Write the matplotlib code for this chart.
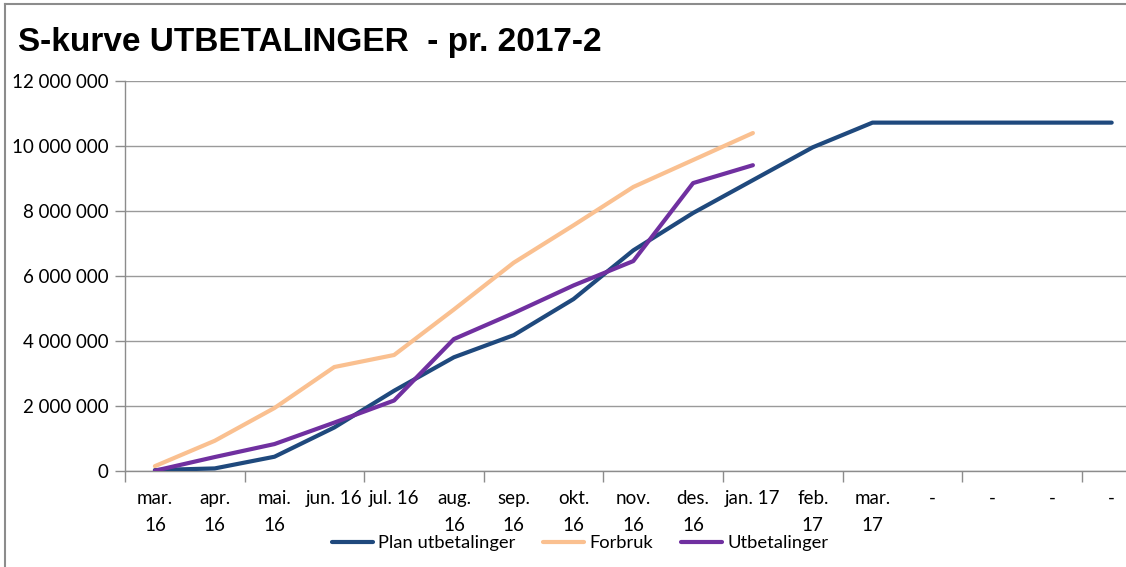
import matplotlib
matplotlib.use("Agg")
import matplotlib.pyplot as plt
from matplotlib.lines import Line2D
from matplotlib.ticker import FuncFormatter, FixedLocator
import numpy as np

categories = ["mar.\n16", "apr.\n16", "mai.\n16", "jun. 16", "jul. 16", "aug.\n16",
              "sep.\n16", "okt.\n16", "nov.\n16", "des.\n16", "jan. 17", "feb.\n17",
              "mar.\n17", "-", "-", "-", "-"]

plan = [0.02e6, 0.07e6, 0.43e6, 1.33e6, 2.46e6, 3.49e6, 4.17e6, 5.28e6, 6.78e6,
        7.93e6, 8.94e6, 9.95e6, 10.71e6, 10.71e6, 10.71e6, 10.71e6, 10.71e6]
forbruk = [0.14e6, 0.92e6, 1.93e6, 3.19e6, 3.56e6, 4.96e6, 6.40e6, 7.55e6, 8.73e6,
           9.56e6, 10.39e6]
utbetalinger = [0.0, 0.42e6, 0.82e6, 1.48e6, 2.16e6, 4.05e6, 4.85e6, 5.70e6, 6.45e6,
                8.85e6, 9.40e6]

series_names = ["Plan utbetalinger", "Forbruk", "Utbetalinger"]
colors = ["#1F497D", "#FAC090", "#7030A0"]

W, H = 1126, 567
fig = plt.figure(figsize=(W / 100, H / 100), dpi=100)
plt.rcParams['font.family'] = ['Lato', 'DejaVu Sans']

left = 125 / W
bottom = 1 - 470.7 / H
top = 1 - 80.7 / H
width = 17 * 59.8 / W
ax = fig.add_axes([left, bottom, width, top - bottom])

x = np.arange(len(categories))
ax.plot(x[:len(plan)], plan, color=colors[0], lw=3.0, label=series_names[0],
        solid_capstyle='round', solid_joinstyle='round', zorder=3)
ax.plot(x[:len(forbruk)], forbruk, color=colors[1], lw=3.0, label=series_names[1],
        solid_capstyle='round', solid_joinstyle='round', zorder=3)
ax.plot(x[:len(utbetalinger)], utbetalinger, color=colors[2], lw=3.0, label=series_names[2],
        solid_capstyle='round', solid_joinstyle='round', zorder=3)

ax.set_xlim(-0.5, len(categories) - 0.5)
ax.set_ylim(0, 12e6)
ax.set_yticks(np.arange(0, 12e6 + 1, 2e6))
ax.yaxis.set_major_formatter(FuncFormatter(lambda v, p: f"{int(v):,}".replace(",", " ")))
ax.grid(axis='y', color='#9A9A9A', lw=1.0, zorder=0)
ax.set_axisbelow(True)

ax.xaxis.set_major_locator(FixedLocator(np.arange(-0.5, len(categories), 2)))
ax.xaxis.set_minor_locator(FixedLocator(x))
ax.set_xticklabels([], minor=False)
ax.set_xticks(x, categories, minor=True)
ax.tick_params(axis='x', which='major', length=8, width=1, color='#8C8C8C', direction='out')
ax.tick_params(axis='x', which='minor', length=0, pad=14, labelsize=13.5)
ax.tick_params(axis='y', length=7, width=1, color='#8C8C8C', labelsize=13.5, pad=5)
for lab in ax.get_xticklabels(minor=True):
    lab.set_linespacing(1.7)
    lab.set_verticalalignment('top')

for s in ['top', 'right']:
    ax.spines[s].set_visible(False)
for s in ['left', 'bottom']:
    ax.spines[s].set_color('#8C8C8C')
    ax.spines[s].set_linewidth(1.0)

fig.text(18 / W, 1 - 43 / H, "S-kurve UTBETALINGER  - pr. 2017-2",
         family=['Liberation Sans', 'DejaVu Sans'], fontweight='bold', fontsize=24,
         va='center', ha='left')

leg = fig.legend(loc='center', bbox_to_anchor=(580 / W, 1 - 543 / H), ncol=3,
                 frameon=False, fontsize=13.2, handlelength=2.25, handletextpad=0.28,
                 columnspacing=1.5, borderpad=0, borderaxespad=0)

# outer chart border (left and top)
fig.add_artist(Line2D([4.5 / W, 4.5 / W], [0, 1 - 3.5 / H], color='#8C8C8C', lw=1.5,
                      transform=fig.transFigure))
fig.add_artist(Line2D([4.5 / W, 1], [1 - 3.5 / H, 1 - 3.5 / H], color='#8C8C8C', lw=1.5,
                      transform=fig.transFigure))

fig.savefig("out.png", dpi=100)
